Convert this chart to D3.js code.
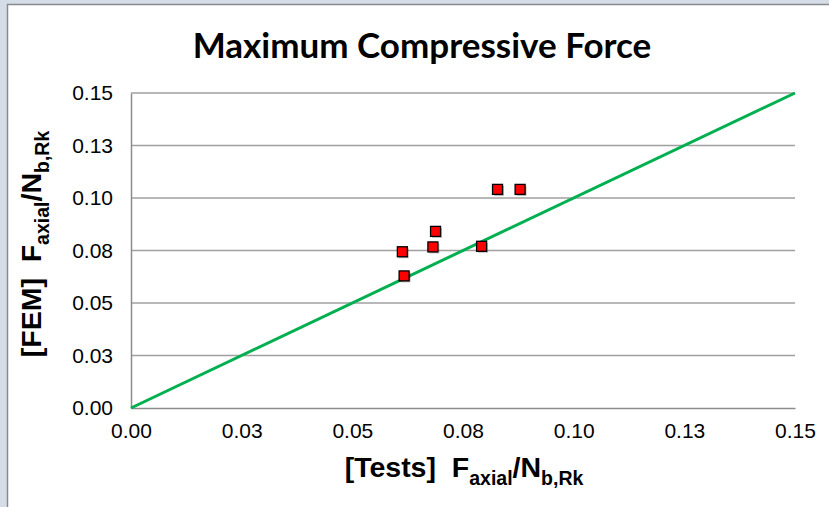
<!DOCTYPE html>
<html><head><meta charset="utf-8">
<script src="https://cdn.jsdelivr.net/npm/d3@7"></script>
<style>html,body{margin:0;padding:0;background:#fff;}svg{display:block;}</style>
</head><body>
<script>
const testsX = [0.0613, 0.0617, 0.0682, 0.0688, 0.0792, 0.0828, 0.0879];
const femY   = [0.0744, 0.0629, 0.0767, 0.0841, 0.0770, 0.1041, 0.1041];
const tickValues = [0, 0.025, 0.05, 0.075, 0.1, 0.125, 0.15];
const tickLabels = ["0.00", "0.03", "0.05", "0.08", "0.10", "0.13", "0.15"];
const lineX = [0, 0.15];
const lineY = [0, 0.15];
const title = "Maximum Compressive Force";

const W = 829, H = 507;
const m = {left: 131, right: 795, top: 93, bottom: 408};
const svg = d3.select("body").append("svg").attr("width", W).attr("height", H);

// background frame
svg.append("rect").attr("width", W).attr("height", H).attr("fill", "#d5dde8");
svg.append("rect").attr("x", 7.5).attr("y", 4.5).attr("width", W + 10).attr("height", H + 10)
  .attr("fill", "#fff").attr("stroke", "#8a8a8a").attr("stroke-width", 1.5);

const x = d3.scaleLinear().domain([0, 0.15]).range([m.left, m.right]);
const y = d3.scaleLinear().domain([0, 0.15]).range([m.bottom, m.top]);

// gridlines
svg.append("g").selectAll("line").data(tickValues.slice(1)).join("line")
  .attr("x1", m.left).attr("x2", m.right)
  .attr("y1", d => y(d)).attr("y2", d => y(d))
  .attr("stroke", "#a0a0a0").attr("stroke-width", 1.5);

// axes
const fmt = (d) => tickLabels[tickValues.indexOf(d)];
const xAxis = svg.append("g").attr("transform", `translate(0,${m.bottom})`)
  .call(d3.axisBottom(x).tickValues(tickValues).tickFormat(fmt).tickSize(0).tickPadding(15));
const yAxis = svg.append("g").attr("transform", `translate(${m.left},0)`)
  .call(d3.axisLeft(y).tickValues(tickValues).tickFormat(fmt).tickSize(0).tickPadding(18));
[xAxis, yAxis].forEach(a => {
  a.select(".domain").attr("stroke", "#8c8c8c").attr("stroke-width", 1.5);
  a.selectAll("text").attr("font-family", "'Liberation Sans', Arial, sans-serif")
    .attr("font-size", 21).attr("fill", "#000");
});

// 1:1 line
svg.append("line")
  .attr("x1", x(lineX[0])).attr("y1", y(lineY[0]))
  .attr("x2", x(lineX[1])).attr("y2", y(lineY[1]))
  .attr("stroke", "#00b050").attr("stroke-width", 3);

// markers
const pts = testsX.map((v, i) => ({x: v, y: femY[i]}));
const s = 10;
svg.append("g").selectAll("rect.sh").data(pts).join("rect")
  .attr("x", d => x(d.x) - s/2 + 1.5).attr("y", d => y(d.y) - s/2 + 1.5)
  .attr("width", s).attr("height", s).attr("fill", "#000").attr("opacity", 0.25);
svg.append("g").selectAll("rect.pt").data(pts).join("rect")
  .attr("x", d => x(d.x) - s/2).attr("y", d => y(d.y) - s/2)
  .attr("width", s).attr("height", s).attr("fill", "#ff0000")
  .attr("stroke", "#000").attr("stroke-width", 1.3);

// title
svg.append("text").attr("x", 422).attr("y", 58).attr("text-anchor", "middle")
  .attr("font-family", "Lato, 'Open Sans', sans-serif").attr("font-weight", "bold")
  .attr("font-size", 35).attr("fill", "#000").text(title);

// axis titles
function axisTitle(g, main) {
  g.attr("font-family", "'Liberation Sans', Arial, sans-serif").attr("font-weight", "bold")
   .attr("font-size", 28.5).attr("fill", "#000");
  g.append("tspan").text(main + "\u00a0\u00a0F");
  g.append("tspan").attr("font-size", 19.5).attr("dy", 8).text("axial");
  g.append("tspan").attr("dy", -8).text("/N");
  g.append("tspan").attr("font-size", 19.5).attr("dy", 8).text("b,Rk");
}
axisTitle(svg.append("text").attr("x", 464).attr("y", 477).attr("text-anchor", "middle"), "[Tests]");
axisTitle(svg.append("text").attr("transform", "translate(41,244) rotate(-90)").attr("text-anchor", "middle"), "[FEM]");
</script>
</body></html>
